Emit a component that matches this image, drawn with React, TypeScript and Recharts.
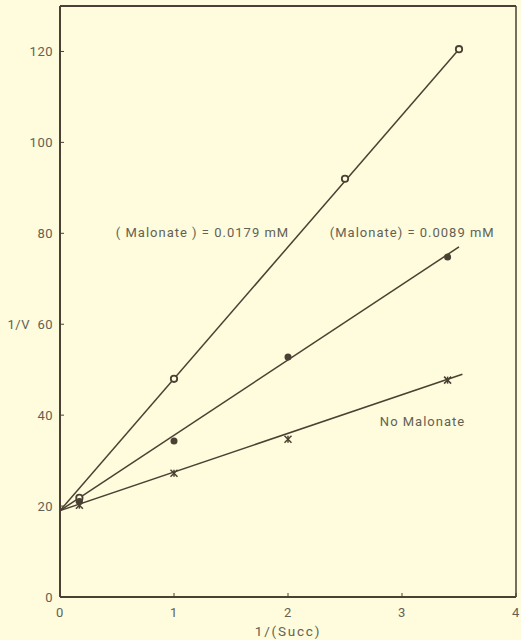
import { ComposedChart, Line, Scatter, XAxis, YAxis, ReferenceLine, ReferenceDot } from 'recharts'

const xTicks = [0, 1, 2, 3, 4]
const yTicks = [0, 20, 40, 60, 80, 100, 120]

// measured points: 1/(Succ) vs 1/V
const highX = [0.17, 1, 2.5, 3.5]
const highY = [21.8, 48, 92, 120.5]
const lowX = [0.17, 1, 2, 3.4]
const lowY = [21, 34.3, 52.8, 74.8]
const noneX = [0.17, 1, 2, 3.4]
const noneY = [20.2, 27.2, 34.7, 47.7]

// drawn lines, start and end points
const highFitX = [0, 3.5]
const highFitY = [19, 120.5]
const lowFitX = [0, 3.5]
const lowFitY = [19, 77]
const noneFitX = [0, 3.53]
const noneFitY = [19, 49]

const zip = (xs: number[], ys: number[]) => xs.map((x, i) => ({ x, y: ys[i] }))

const ink = '#4a4033'
const textColor = '#636155'
const bg = '#fefcdc'
const font = 'Roboto, "Open Sans", sans-serif'

const OpenDot = (p: any) => (
  <circle cx={p.cx} cy={p.cy} r={3.2} fill={bg} stroke={ink} strokeWidth={1.8} />
)
const FilledDot = (p: any) => <circle cx={p.cx} cy={p.cy} r={3.5} fill={ink} />
const Star = (p: any) => {
  const { cx, cy } = p
  const s = 3.5
  return (
    <g stroke={ink} strokeWidth={1.5}>
      <line x1={cx - s} y1={cy - s} x2={cx + s} y2={cy + s} />
      <line x1={cx - s} y1={cy + s} x2={cx + s} y2={cy - s} />
      <line x1={cx} y1={cy - s} x2={cx} y2={cy + s} />
    </g>
  )
}

const tickStyle = { fill: textColor, fontSize: 13, fontFamily: font, letterSpacing: 0.5 }
const noteStyle = { fill: textColor, fontSize: 13, fontFamily: font, letterSpacing: 1 }

export default function App() {
  return (
    <div style={{ position: 'absolute', left: 0, top: 0, width: 521, height: 640, background: bg }}>
      <ComposedChart width={521} height={640} margin={{ top: 6, right: 5, bottom: 0, left: 0 }}>
        <XAxis
          type='number'
          dataKey='x'
          domain={[0, 4]}
          ticks={xTicks}
          height={43}
          tickSize={-4}
          tickMargin={15}
          tick={tickStyle}
          axisLine={{ stroke: ink, strokeWidth: 2 }}
          tickLine={{ stroke: ink }}
          label={{ value: '1/(Succ)', position: 'insideBottom', offset: 4, fill: textColor, fontSize: 13.5, fontFamily: font, letterSpacing: 1.8 }}
        />
        <YAxis
          type='number'
          dataKey='y'
          domain={[0, 130]}
          ticks={yTicks}
          width={60}
          tickSize={-4}
          tickMargin={11}
          tick={tickStyle}
          tickFormatter={(v: number) => (v === 60 ? '1/V\u00A0\u00A060' : String(v))}
          axisLine={{ stroke: ink, strokeWidth: 2 }}
          tickLine={{ stroke: ink }}
        />
        <ReferenceLine y={130} stroke={ink} strokeWidth={2} />
        <ReferenceLine x={4} stroke={ink} strokeWidth={1.5} />

        <Line data={zip(highFitX, highFitY)} dataKey='y' type='linear' stroke={ink} strokeWidth={1.5} dot={false} isAnimationActive={false} />
        <Line data={zip(lowFitX, lowFitY)} dataKey='y' type='linear' stroke={ink} strokeWidth={1.5} dot={false} isAnimationActive={false} />
        <Line data={zip(noneFitX, noneFitY)} dataKey='y' type='linear' stroke={ink} strokeWidth={1.5} dot={false} isAnimationActive={false} />

        <Scatter data={zip(highX, highY)} dataKey='y' shape={OpenDot} isAnimationActive={false} />
        <Scatter data={zip(lowX, lowY)} dataKey='y' shape={FilledDot} isAnimationActive={false} />
        <Scatter data={zip(noneX, noneY)} dataKey='y' shape={Star} isAnimationActive={false} />

        <ReferenceDot x={1.25} y={80.3} r={0} fill='none' stroke='none' label={{ value: '( Malonate ) = 0.0179 mM', position: 'center', ...noteStyle }} />
        <ReferenceDot x={3.09} y={80.3} r={0} fill='none' stroke='none' label={{ value: '(Malonate) = 0.0089 mM', position: 'center', ...noteStyle }} />
        <ReferenceDot x={3.18} y={38.7} r={0} fill='none' stroke='none' label={{ value: 'No Malonate', position: 'center', ...noteStyle }} />
      </ComposedChart>
    </div>
  )
}
